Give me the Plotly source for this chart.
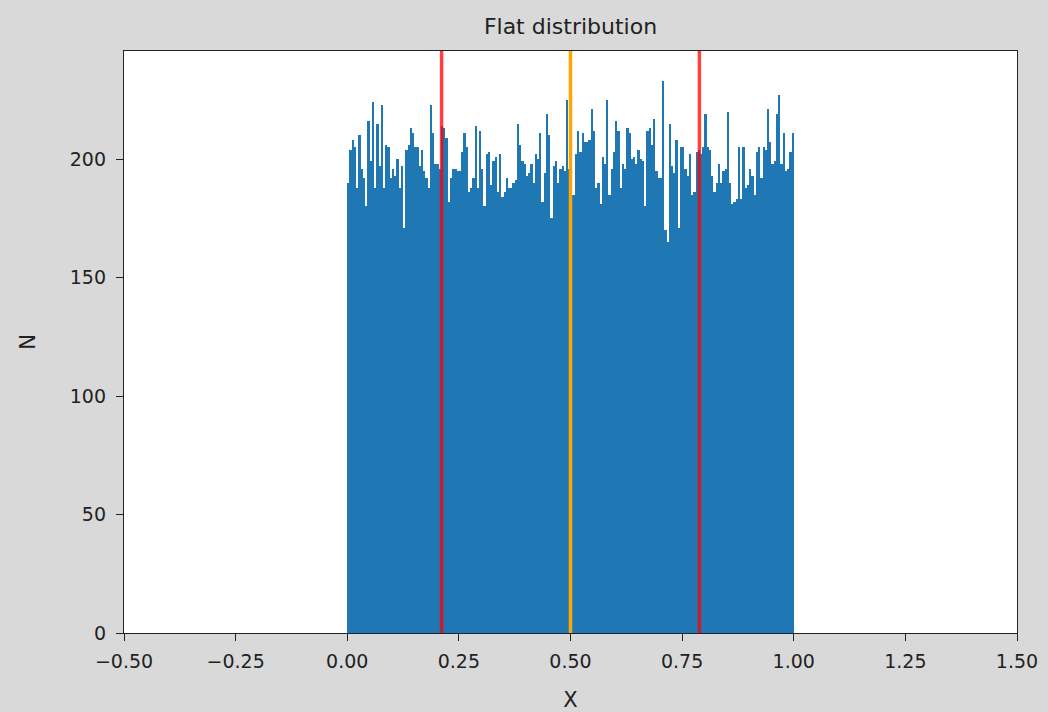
import numpy as np
import plotly.graph_objects as go

# Histogram counts (200 equal bins between 0 and 1)
counts = [
    190, 204, 208, 205, 188, 210, 196, 192, 180, 216, 199, 224, 188, 215, 197, 223, 188,
    206, 205, 192, 196, 193, 200, 188, 197, 171, 204, 206, 213, 211, 205, 205, 197,
    204, 195, 192, 188, 223, 211, 198, 198, 196, 214, 213, 209, 182, 192, 196, 196, 195,
    195, 203, 211, 205, 186, 188, 192, 214, 188, 212, 196, 180, 202, 203, 189, 199,
    201, 186, 202, 184, 186, 192, 188, 188, 190, 191, 215, 206, 199, 198, 193, 194, 198,
    190, 202, 200, 211, 182, 194, 219, 210, 175, 197, 199, 190, 196, 197, 195, 225, 196,
    185, 185, 202, 212, 203, 211, 207, 207, 208, 221, 212, 188, 190, 181, 201, 198, 225,
    185, 196, 203, 216, 212, 188, 198, 196, 213, 211, 200, 201, 198, 204, 200, 199,
    180, 212, 213, 206, 217, 195, 192, 192, 233, 170, 165, 215, 197, 194, 208, 171, 205,
    205, 196, 193, 202, 185, 186, 203, 204, 202, 205, 219, 205, 204, 193, 186, 190, 198,
    190, 195, 196, 220, 190, 181, 182, 183, 205, 183, 205, 188, 189, 196, 193, 185, 203,
    205, 192, 205, 204, 221, 207, 198, 199, 219, 227, 198, 211, 195, 196, 203, 211,
]
bin_lo, bin_hi = 0.0, 1.0
mean_val = 0.5
std_val = 0.2887

x_ticks = [-0.5, -0.25, 0.0, 0.25, 0.5, 0.75, 1.0, 1.25, 1.5]
x_ticklabels = ["\u22120.50", "\u22120.25", "0.00", "0.25", "0.50", "0.75", "1.00", "1.25", "1.50"]
y_ticks = [0, 50, 100, 150, 200]

n = len(counts)
edges = np.linspace(bin_lo, bin_hi, n + 1)
centers = (edges[:-1] + edges[1:]) / 2
width = (bin_hi - bin_lo) / n

FONT = "DejaVu Sans"
fig = go.Figure()
fig.add_trace(go.Bar(x=centers, y=counts, width=width,
                     marker=dict(color="#1f77b4", line=dict(width=0)),
                     showlegend=False, hoverinfo="skip"))

for xv, col in [(mean_val - std_val, "rgba(255,0,0,0.75)"),
                (mean_val, "#ffa500"),
                (mean_val + std_val, "rgba(255,0,0,0.75)")]:
    fig.add_shape(type="line", xref="x", yref="paper", x0=xv, x1=xv, y0=0, y1=1,
                  line=dict(color=col, width=3.5), layer="above")

axis_common = dict(showline=True, linecolor="#222", linewidth=1.3, mirror=True,
                   ticks="outside", ticklen=7, tickwidth=1.3, tickcolor="#222",
                   showgrid=False, zeroline=False, automargin=False,
                   tickfont=dict(family=FONT, size=19, color="#222"))

fig.update_layout(
    width=1048, height=712,
    paper_bgcolor="#d9d9d9", plot_bgcolor="white",
    margin=dict(l=124, r=31, t=51, b=79),
    bargap=0,
    title=dict(text="Flat distribution", x=0.5, xanchor="center", xref="paper",
               y=1 - 26 / 712, yanchor="middle",
               font=dict(family=FONT, size=22, color="#222")),
    xaxis=dict(range=[-0.5, 1.5], tickvals=x_ticks, ticktext=x_ticklabels,
               ticklabelstandoff=4,
               title=dict(text="X", font=dict(family=FONT, size=21, color="#222"), standoff=22),
               **axis_common),
    yaxis=dict(range=[0, 245.6], tickvals=y_ticks, ticklabelstandoff=6,
               title=dict(text="N", font=dict(family=FONT, size=21, color="#222"), standoff=28),
               **axis_common),
)

fig.write_html(
    "out.html",
    config={"displayModeBar": False},
    post_script="document.body.style.margin='0';document.body.style.background='#d9d9d9';",
)
